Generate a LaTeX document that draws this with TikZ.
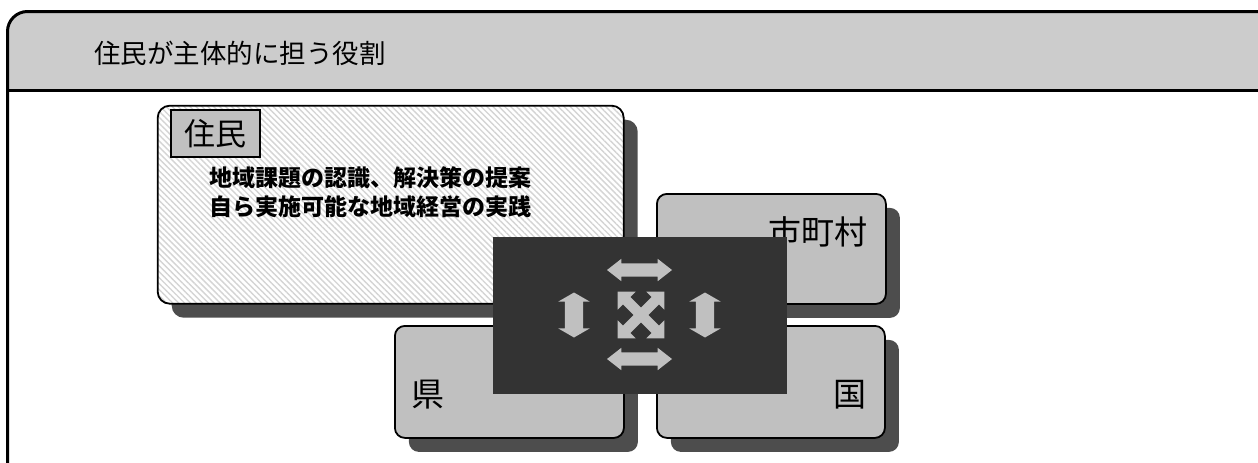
\documentclass[tikz,border=0pt]{standalone}
\usepackage{fontspec}
\newfontfamily\jp{Noto Sans CJK JP}
\usetikzlibrary{shapes.arrows,patterns.meta,shadows}
\definecolor{hdr}{HTML}{CCCCCC}
\definecolor{boxgrey}{HTML}{C0C0C0}
\definecolor{shadowgrey}{HTML}{4D4D4D}
\definecolor{darkhub}{HTML}{333333}
\definecolor{arrowgrey}{HTML}{C0C0C0}
\definecolor{hatch}{HTML}{D4D4D4}
\begin{document}
\begin{tikzpicture}[x=1pt,y=-1pt,font=\jp,
  shadowed/.style={general shadow={fill=shadowgrey,shadow xshift=14pt,shadow yshift=-14pt,sharp corners}},
  gbox/.style={shadowed,draw=black,line width=1.8pt,fill=boxgrey,rounded corners=10pt,inner sep=0pt,anchor=north west},
  resbox/.style={shadowed,preaction={fill=white},draw=black,line width=1.8pt,rounded corners=12pt,inner sep=0pt,anchor=north west,
    pattern={Lines[angle=-45,distance=4.2pt,line width=1.4pt]},pattern color=hatch},
  harrow/.style={double arrow,fill=arrowgrey,inner xsep=0pt,inner ysep=6.5pt,double arrow head extend=4.5pt,double arrow tip angle=76,minimum height=65pt},
  varrow/.style={double arrow,fill=arrowgrey,inner xsep=0pt,inner ysep=9pt,double arrow head extend=6.5pt,double arrow tip angle=120,minimum height=45pt,rotate=90},
  xarrow/.style={double arrow,fill=arrowgrey,inner xsep=0pt,inner ysep=5pt,double arrow head extend=7.5pt,double arrow tip angle=90,minimum height=66pt},
  bigtext/.style={font=\jp\fontsize{33}{36}\selectfont,inner sep=0pt}]
\useasboundingbox (0,0) rectangle (1258,463);
\clip (0,0) rectangle (1258,463);
% header and frame
\fill[hdr] (7.5,90) -- (7.5,31.5) arc[start angle=180,end angle=270,radius=20] -- (1270,11.5) -- (1270,90) -- cycle;
\draw[line width=3pt] (7.5,480) -- (7.5,31.5) arc[start angle=180,end angle=270,radius=20] -- (1270,11.5);
\draw[line width=3pt] (7.5,90) -- (1270,90);
\node[anchor=west,inner sep=0pt,font=\jp\fontsize{26.5}{30}\selectfont] (title) at (94,53) {住民が主体的に担う役割};
% residents box
\node[resbox,minimum width=466pt,minimum height=198pt] (res) at (157,105) {};
\node[draw=black,line width=1.2pt,fill=boxgrey,minimum width=89pt,minimum height=47pt,inner sep=0pt,font=\jp\fontsize{31}{31}\selectfont] (lbl) at (215.5,133.5) {住民};
\node[anchor=west,inner sep=0pt,font=\jp\bfseries\fontsize{23}{26}\selectfont] (t1) at (209,178) {地域課題の認識、解決策の提案};
\node[anchor=west,inner sep=0pt,font=\jp\bfseries\fontsize{23}{26}\selectfont] (t2) at (209,207) {自ら実施可能な地域経営の実践};
% other boxes
\node[gbox,minimum width=229pt,minimum height=110pt] (city) at (656,193) {};
\node[gbox,minimum width=229pt,minimum height=112pt] (pref) at (394,325) {};
\node[gbox,minimum width=228pt,minimum height=112pt] (nat) at (656,325) {};
\node[bigtext,anchor=east] (cityt) at (868,232) {市町村};
\node[bigtext,anchor=west] (preft) at (411,395) {県};
\node[bigtext,anchor=east] (natt) at (867,395) {国};
% hub
\node[fill=darkhub,anchor=north west,minimum width=294pt,minimum height=157pt,inner sep=0pt] (hub) at (493,237) {};
\node[harrow] (atop) at (639.5,270) {};
\node[harrow] (abot) at (639.5,359) {};
\node[varrow] (aleft) at (574,315) {};
\node[varrow] (aright) at (705,315) {};
\node[xarrow,rotate=45] (xa) at (641,315) {};
\node[xarrow,rotate=-45] (xb) at (641,315) {};
\end{tikzpicture}
\end{document}
